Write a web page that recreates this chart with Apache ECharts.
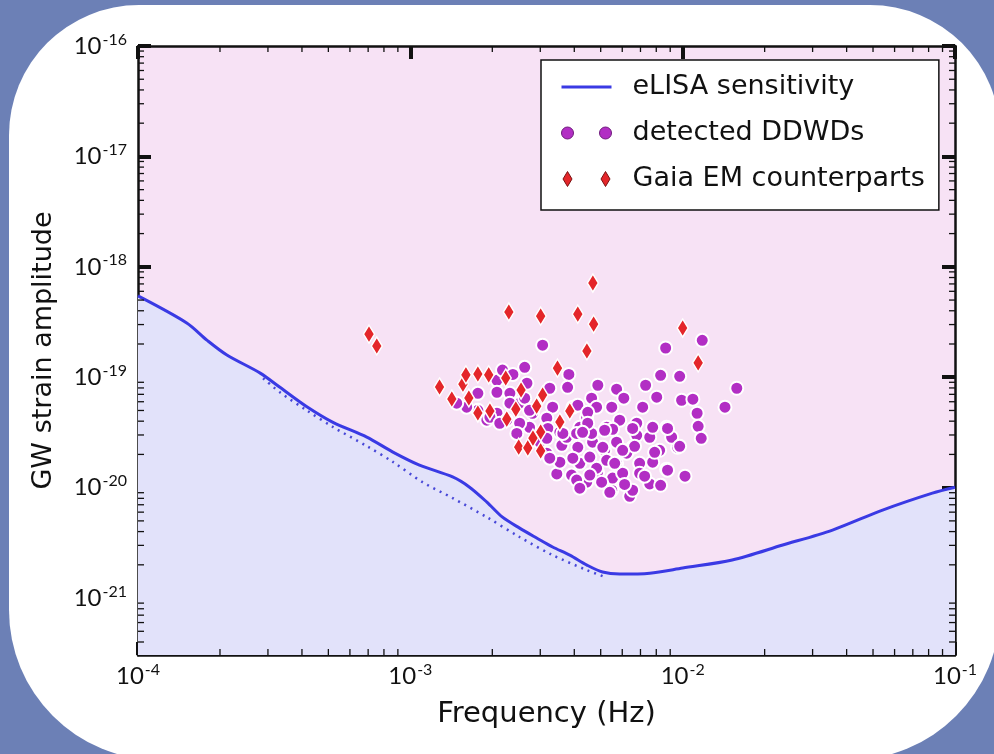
<!DOCTYPE html>
<html>
<head>
<meta charset="utf-8">
<script src="https://cdn.jsdelivr.net/npm/echarts@6/dist/echarts.min.js"></script>
<style>
  html, body { margin: 0; padding: 0; background: #6c80b6; }
  #chart { width: 994px; height: 754px; }
</style>
</head>
<body>
<div id="chart"></div>
<script>
// Axis ranges (Hz and dimensionless strain)
const FREQ_MIN = 1e-4, FREQ_MAX = 1e-1;
const STRAIN_MIN = 3.05e-22, STRAIN_MAX = 1e-16;

// eLISA sensitivity curve [frequency, strain]
const sensitivityCurve = [
  [1.00e-4, 5.45e-19], [1.51e-4, 3.10e-19], [1.79e-4, 2.17e-19], [2.12e-4, 1.59e-19],
  [2.81e-4, 1.09e-19], [3.32e-4, 8.1e-20], [4.17e-4, 5.4e-20], [5.20e-4, 3.9e-20],
  [6.92e-4, 2.87e-20], [8.63e-4, 2.10e-20], [1.08e-3, 1.60e-20], [1.43e-3, 1.25e-20],
  [1.65e-3, 1.01e-20], [1.91e-3, 7.4e-21], [2.18e-3, 5.4e-21], [2.52e-3, 4.3e-21],
  [2.91e-3, 3.5e-21], [3.33e-3, 2.9e-21], [3.85e-3, 2.45e-21], [4.45e-3, 1.99e-21],
  [5.08e-3, 1.72e-21], [5.87e-3, 1.65e-21], [7.57e-3, 1.68e-21], [1.00e-2, 1.87e-21],
  [1.52e-2, 2.21e-21], [2.33e-2, 3.02e-21], [3.55e-2, 4.13e-21], [5.42e-2, 6.27e-21],
  [8.26e-2, 8.93e-21], [1.00e-1, 1.01e-20]
];

// Sensitivity without the galactic confusion foreground (dotted)
const instrumentCurve = [
  [2.88e-4, 9.8e-20], [3.32e-4, 7.3e-20], [4.17e-4, 5.0e-20], [5.20e-4, 3.54e-20],
  [6.92e-4, 2.38e-20], [8.63e-4, 1.71e-20], [1.11e-3, 1.12e-20], [1.43e-3, 8.05e-21],
  [1.91e-3, 5.4e-21], [2.52e-3, 3.57e-21], [3.33e-3, 2.45e-21], [4.45e-3, 1.79e-21],
  [5.08e-3, 1.58e-21]
];

// Detected double white dwarfs [frequency, strain]
const ddwdPoints = [
  [3.06e-3,1.95e-19],[8.66e-3,1.84e-19],[1.18e-2,2.16e-19],[8.30e-3,1.04e-19],[9.75e-3,1.02e-19],
  [2.63e-3,1.23e-19],[3.82e-3,1.06e-19],[4.88e-3,8.46e-20],[5.72e-3,7.79e-20],[7.31e-3,8.46e-20],
  [1.58e-2,7.95e-20],[8.03e-3,6.59e-20],[9.91e-3,6.19e-20],[1.09e-2,6.33e-20],[6.08e-3,6.46e-20],
  [5.49e-3,5.35e-20],[7.13e-3,5.35e-20],[1.13e-2,4.72e-20],[1.43e-2,5.35e-20],[1.14e-2,3.59e-20],
  [1.17e-2,2.80e-20],[3.78e-3,8.11e-20],[4.63e-3,6.46e-20],[2.08e-3,9.39e-20],[2.08e-3,7.31e-20],
  [2.32e-3,7.15e-20],[2.68e-3,8.82e-20],[3.25e-3,7.95e-20],[1.02e-2,1.27e-20],[8.73e-3,1.47e-20],
  [6.39e-3,8.35e-21],[5.49e-3,9.47e-21],[4.44e-3,1.12e-20],[3.45e-3,1.33e-20],[3.91e-3,1.30e-20],
  [4.87e-3,1.38e-20],[5.53e-3,1.22e-20],[7.57e-3,1.08e-20],[8.30e-3,1.05e-20],[9.58e-3,2.32e-20],
  [8.23e-3,2.18e-20],[8.73e-3,3.52e-20],[6.78e-3,2.98e-20],[5.72e-3,2.58e-20],[6.55e-3,2.32e-20],
  [4.67e-3,2.58e-20],[4.12e-3,2.32e-20],[3.60e-3,2.42e-20],[3.17e-3,2.05e-20],[3.54e-3,1.70e-20],
  [4.19e-3,1.66e-20],[4.83e-3,1.50e-20],[5.72e-3,1.66e-20],[6.95e-3,1.66e-20],[7.76e-3,1.70e-20],
  [7.57e-3,2.86e-20],[5.26e-3,3.52e-20],[5.87e-3,4.08e-20],[4.19e-3,3.52e-20],[4.44e-3,4.34e-20],
  [4.83e-3,5.35e-20],[3.95e-3,5.35e-20],[3.33e-3,5.35e-20],[3.17e-3,4.26e-20],[2.81e-3,4.72e-20],
  [2.52e-3,5.82e-20],[2.32e-3,5.82e-20],[2.08e-3,4.72e-20],[2.26e-3,4.08e-20],[1.91e-3,4.08e-20],
  [1.77e-3,5.02e-20],[1.61e-3,5.35e-20],[1.48e-3,5.82e-20],[1.77e-3,7.15e-20],[2.18e-3,1.16e-19],
  [2.38e-3,1.06e-19],[3.75e-3,2.86e-20],[4.08e-3,3.10e-20],[5.17e-3,2.18e-20],[6.23e-3,2.05e-20],
  [5.26e-3,1.77e-20],[4.56e-3,1.89e-20],[3.95e-3,1.85e-20],[2.99e-3,2.58e-20],[2.74e-3,3.52e-20],
  [2.52e-3,3.83e-20],[3.20e-3,3.44e-20],[3.54e-3,3.17e-20],[6.78e-3,3.83e-20],[7.76e-3,3.52e-20],
  [9.11e-3,2.86e-20],[6.95e-3,1.35e-20],[6.02e-3,1.35e-20],[5.04e-3,1.12e-20],[6.55e-3,9.47e-21],
  [4.08e-3,1.17e-20],[5.53e-3,3.38e-20],[8.80e-3,3.44e-20],[5.09e-3,2.32e-20],[6.66e-3,2.37e-20],
  [9.75e-3,2.37e-20],[5.63e-3,1.66e-20],[8.80e-3,1.44e-20],[5.40e-3,9.08e-21],[6.02e-3,2.18e-20],
  [4.63e-3,3.10e-20],[4.12e-3,5.58e-20],[4.48e-3,4.81e-20],[4.48e-3,3.83e-20],[5.17e-3,3.31e-20],
  [6.55e-3,3.44e-20],[3.63e-3,3.10e-20],[2.63e-3,6.46e-20],[1.96e-3,4.34e-20],[2.13e-3,3.83e-20],
  [2.74e-3,5.02e-20],[4.19e-3,9.88e-21],[3.25e-3,1.85e-20],[4.29e-3,3.17e-20],[3.17e-3,2.80e-20],
  [4.56e-3,1.30e-20],[6.12e-3,1.07e-20],[7.25e-3,1.27e-20],[7.89e-3,2.09e-20],[2.46e-3,3.10e-20]
];

// Systems with Gaia electromagnetic counterparts [frequency, strain]
const gaiaPoints = [
  [7.05e-4,2.46e-19],[7.53e-4,1.92e-19],[4.68e-3,7.13e-19],[2.30e-3,3.90e-19],[3.01e-3,3.58e-19],
  [4.12e-3,3.73e-19],[4.71e-3,3.03e-19],[1.00e-2,2.79e-19],[4.45e-3,1.73e-19],[1.14e-2,1.35e-19],
  [3.47e-3,1.21e-19],[1.28e-3,8.15e-20],[1.42e-3,6.35e-20],[1.56e-3,8.67e-20],[1.60e-3,1.05e-19],
  [1.77e-3,1.07e-19],[1.94e-3,1.05e-19],[1.64e-3,6.49e-20],[2.24e-3,9.84e-20],[2.55e-3,7.66e-20],
  [1.77e-3,4.74e-20],[1.96e-3,4.94e-20],[2.26e-3,4.18e-20],[2.44e-3,5.15e-20],[2.91e-3,5.48e-20],
  [3.06e-3,6.90e-20],[3.85e-3,4.94e-20],[3.54e-3,3.93e-20],[3.01e-3,3.19e-20],[2.50e-3,2.33e-20],
  [2.70e-3,2.29e-20],[3.01e-3,2.15e-20],[2.82e-3,2.81e-20]
];

// Minor tick positions (2..9 within each decade)
const minorMantissas = [2, 3, 4, 5, 6, 7, 8, 9];
const freqDecades = [-4, -3, -2];
const strainDecades = [-22, -21, -20, -19, -18, -17];

const freqMinorTicks = [];
freqDecades.forEach(d => minorMantissas.forEach(m => freqMinorTicks.push(m * Math.pow(10, d))));
const strainMinorTicks = [];
strainDecades.forEach(d => minorMantissas.forEach(m => {
  const v = m * Math.pow(10, d);
  if (v > STRAIN_MIN && v < STRAIN_MAX) strainMinorTicks.push(v);
}));

const INK = '#111111';
const LINE_BLUE = '#3a3ae4';
const DDWD_COLOR = '#b22ec4';
const GAIA_COLOR = '#e4262a';

function powerLabel(v) {
  const lg = Math.log10(v);
  const e = Math.round(lg);
  if (Math.abs(lg - e) > 1e-6) return '';
  return '{b|10}{s|' + e + '}';
}
const powerRich = {
  b: { fontFamily: 'Lato', fontSize: 24, color: INK },
  s: { fontFamily: 'Lato', fontSize: 16, color: INK, padding: [0, 0, 13, 1] }
};

function frameAxis(extra) {
  return Object.assign({
    type: 'log',
    logBase: 10,
    axisLine: { show: true, onZero: false, lineStyle: { color: INK, width: 2.5 } },
    axisTick: { show: true, inside: true, length: 13, lineStyle: { color: INK, width: 4 } },
    splitLine: { show: false },
    minorTick: { show: false },
    minorSplitLine: { show: false }
  }, extra);
}

const chart = echarts.init(document.getElementById('chart'), null, { renderer: 'canvas' });

const option = {
  backgroundColor: '#6c80b6',
  animation: false,
  graphic: [{
    type: 'rect', z: -100, silent: true,
    shape: { x: 9, y: 5, width: 991, height: 755, r: [130, 130, 150, 150] },
    style: { fill: '#ffffff' }
  }],
  grid: {
    left: 138, right: 39, top: 46, bottom: 99,
    containLabel: false, outerBoundsMode: 'none',
    show: true, backgroundColor: '#f7e2f5', borderWidth: 0
  },
  legend: {
    data: [
      { name: 'eLISA sensitivity', icon: 'path://M0,0h50v3h-50z' },
      {
        name: 'detected DDWDs',
        icon: 'path://M0,6a6,6 0 1,0 12,0a6,6 0 1,0 -12,0zM38,6a6,6 0 1,0 12,0a6,6 0 1,0 -12,0z',
        itemStyle: { color: DDWD_COLOR, borderColor: '#6e1a7c', borderWidth: 1 }
      },
      {
        name: 'Gaia EM counterparts',
        icon: 'path://M6,0L10.5,7.5L6,15L1.5,7.5zM44,0L48.5,7.5L44,15L39.5,7.5z',
        itemStyle: { color: GAIA_COLOR, borderColor: '#7a1212', borderWidth: 1 }
      }
    ],
    orient: 'vertical',
    left: 541, top: 60,
    backgroundColor: '#ffffff',
    borderColor: INK, borderWidth: 1.5, borderRadius: 0,
    padding: [13, 14, 17, 20],
    itemGap: 18, itemWidth: 50, itemHeight: 15, itemTextGap: 24,
    textStyle: { fontFamily: 'DejaVu Sans', fontSize: 27, color: INK, lineHeight: 28, padding: [0, 0, 0, 16] },
    selectedMode: false
  },
  xAxis: [
    frameAxis({
      position: 'bottom', min: FREQ_MIN, max: FREQ_MAX,
      axisLabel: { formatter: powerLabel, rich: powerRich, margin: 7 },
      name: 'Frequency (Hz)', nameLocation: 'middle', nameGap: 45, nameMoveOverlap: false,
      nameTextStyle: { fontFamily: 'DejaVu Sans', fontSize: 29, color: INK }
    }),
    frameAxis({ position: 'top', min: FREQ_MIN, max: FREQ_MAX, axisLabel: { show: false } })
  ],
  yAxis: [
    frameAxis({
      position: 'left', min: STRAIN_MIN, max: STRAIN_MAX,
      axisLabel: { formatter: powerLabel, rich: powerRich, margin: 11 },
      name: 'GW strain amplitude', nameLocation: 'middle', nameGap: 81, nameRotate: 90,
      nameMoveOverlap: false,
      nameTextStyle: { fontFamily: 'DejaVu Sans', fontSize: 27, color: INK }
    }),
    frameAxis({ position: 'right', min: STRAIN_MIN, max: STRAIN_MAX, axisLabel: { show: false } })
  ],
  series: [
    {
      name: 'eLISA sensitivity', type: 'line', data: sensitivityCurve,
      symbol: 'none', smooth: 0.3,
      lineStyle: { color: LINE_BLUE, width: 3 },
      itemStyle: { color: LINE_BLUE },
      areaStyle: { color: '#e2e2fa', opacity: 1, origin: STRAIN_MIN },
      z: 2
    },
    {
      name: 'instrument only', type: 'line', data: instrumentCurve,
      symbol: 'none', smooth: 0.3,
      lineStyle: { color: '#4848d8', width: 2.5, type: [2, 5] },
      z: 3
    },
    {
      name: 'detected DDWDs', type: 'scatter', data: ddwdPoints,
      symbol: 'circle', symbolSize: 13,
      itemStyle: { color: DDWD_COLOR, borderColor: '#ffffff', borderWidth: 2, opacity: 1 },
      z: 4
    },
    {
      name: 'Gaia EM counterparts', type: 'scatter', data: gaiaPoints,
      symbol: 'diamond', symbolSize: [11, 18],
      itemStyle: { color: GAIA_COLOR, borderColor: '#ffffff', borderWidth: 1.5, opacity: 1 },
      z: 5
    },
    {
      name: 'strain minor ticks', type: 'custom', silent: true, z: 6,
      data: strainMinorTicks.map(v => [FREQ_MIN, v]),
      renderItem: function (params, api) {
        const cs = params.coordSys;
        const y = api.coord([FREQ_MIN, api.value(1)])[1];
        const st = { stroke: INK, lineWidth: 1.3 };
        return {
          type: 'group', children: [
            { type: 'line', shape: { x1: cs.x, y1: y, x2: cs.x + 6, y2: y }, style: st },
            { type: 'line', shape: { x1: cs.x + cs.width - 6, y1: y, x2: cs.x + cs.width, y2: y }, style: st }
          ]
        };
      }
    },
    {
      name: 'frequency minor ticks', type: 'custom', silent: true, z: 6,
      data: freqMinorTicks.map(v => [v, STRAIN_MAX]),
      renderItem: function (params, api) {
        const cs = params.coordSys;
        const x = api.coord([api.value(0), STRAIN_MAX])[0];
        const st = { stroke: INK, lineWidth: 1.3 };
        return {
          type: 'group', children: [
            { type: 'line', shape: { x1: x, y1: cs.y + cs.height, x2: x, y2: cs.y + cs.height - 6 }, style: st },
            { type: 'line', shape: { x1: x, y1: cs.y, x2: x, y2: cs.y + 6 }, style: st }
          ]
        };
      }
    }
  ]
};

chart.setOption(option);
</script>
</body>
</html>
